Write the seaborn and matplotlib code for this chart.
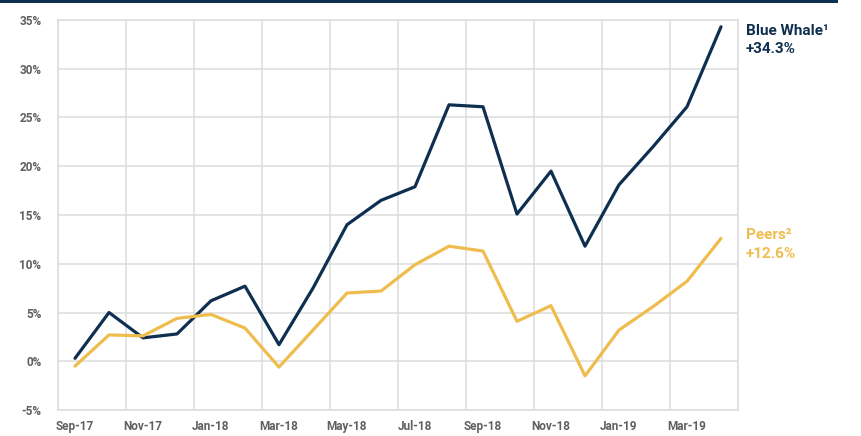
import matplotlib
import matplotlib.pyplot as plt
import numpy as np
import pandas as pd
import seaborn as sns

matplotlib.use('agg')

months = ['Sep-17', 'Oct-17', 'Nov-17', 'Dec-17', 'Jan-18', 'Feb-18', 'Mar-18', 'Apr-18',
          'May-18', 'Jun-18', 'Jul-18', 'Aug-18', 'Sep-18', 'Oct-18', 'Nov-18', 'Dec-18',
          'Jan-19', 'Feb-19', 'Mar-19', 'Apr-19']
blue_whale = [0.3, 5.0, 2.4, 2.8, 6.2, 7.7, 1.7, 7.5, 14.0, 16.5, 17.9, 26.3,
              26.1, 15.1, 19.5, 11.8, 18.1, 22.0, 26.1, 34.3]
peers = [-0.5, 2.7, 2.6, 4.4, 4.8, 3.4, -0.6, 3.2, 7.0, 7.2, 9.9, 11.8,
         11.3, 4.1, 5.7, -1.5, 3.2, 5.6, 8.2, 12.6]

NAVY = '#0f2f50'
GOLD = '#eebd4e'
GRID = '#dcdcdc'
TICK = '#5f5f5f'

df = pd.DataFrame({
    'idx': list(range(len(months))) * 2,
    'ret': blue_whale + peers,
    'fund': ['Blue Whale'] * len(months) + ['Peers'] * len(months),
})

sns.set_theme(style='white')
plt.rcParams['font.family'] = ['Roboto', 'DejaVu Sans']

fig = plt.figure(figsize=(8.62, 4.36), dpi=100)
ax = fig.add_axes([58 / 862, 26 / 436, 680 / 862, 390 / 436])

sns.lineplot(data=df, x='idx', y='ret', hue='fund', palette={'Blue Whale': NAVY, 'Peers': GOLD},
             linewidth=2.3, legend=False, ax=ax, zorder=3)

# category-style axis: labels every 2 months, gridlines between categories
ax.set_xlim(-0.5, len(months) - 0.5)
ax.set_xticks(range(0, len(months), 2))
ax.set_xticklabels(months[::2])
ax.set_xticks(np.arange(-0.5, len(months), 2), minor=True)
ax.set_ylim(-5, 35)
ax.set_yticks(range(-5, 36, 5))
ax.set_yticklabels(['{}%'.format(v) for v in range(-5, 36, 5)])

ax.grid(False)
ax.grid(True, which='minor', axis='x', color=GRID, linewidth=1.1)
ax.grid(True, which='major', axis='y', color=GRID, linewidth=1.1)
ax.set_axisbelow(True)
for s in ax.spines.values():
    s.set_color(GRID)
    s.set_linewidth(1.1)

ax.tick_params(which='both', length=0)
ax.tick_params(axis='y', pad=12, labelsize=8.5, labelcolor=TICK)
ax.tick_params(axis='x', pad=7, labelsize=8.5, labelcolor=TICK)
for lbl in ax.get_xticklabels() + ax.get_yticklabels():
    lbl.set_fontweight('bold')
ax.set_xlabel('')
ax.set_ylabel('')

# end labels
fig.text(746 / 862, 1 - 31 / 436, 'Blue Whale¹', color=NAVY, fontsize=11, fontweight='bold', va='center')
fig.text(746 / 862, 1 - 49 / 436, '+34.3%', color=NAVY, fontsize=11, fontweight='bold', va='center')
fig.text(746 / 862, 1 - 235 / 436, 'Peers²', color=GOLD, fontsize=11, fontweight='bold', va='center')
fig.text(746 / 862, 1 - 254 / 436, '+12.6%', color=GOLD, fontsize=11, fontweight='bold', va='center')

# header bar
fig.add_artist(plt.Rectangle((0, 1 - 3 / 436), 838 / 862, 3 / 436, transform=fig.transFigure,
                             color=NAVY, lw=0))

fig.savefig('out.png', dpi=100)
